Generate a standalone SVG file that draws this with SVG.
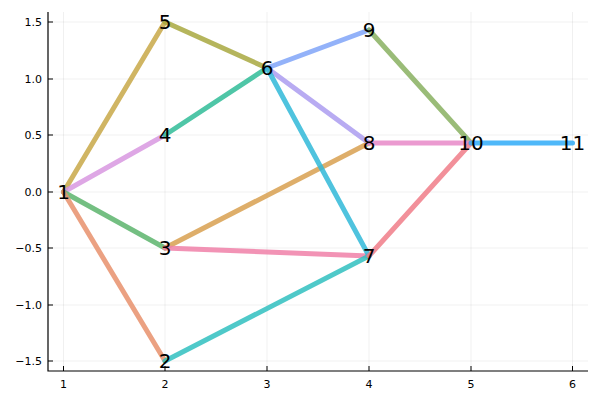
<svg xmlns="http://www.w3.org/2000/svg" width="600" height="400" viewBox="0 0 600 400">
<style>
.grid{stroke:#000;stroke-opacity:0.1;stroke-width:0.6}
.ax{stroke:#000;stroke-width:1.2;fill:none}
.tick{stroke:#000;stroke-width:1}
.tl{font-family:"DejaVu Sans",sans-serif;font-size:11px;fill:#000}
.e{stroke-width:5;stroke-linecap:round;fill:none;stroke-opacity:0.85}
.lbl{font-family:"DejaVu Sans",sans-serif;font-size:20px;fill:#000;text-anchor:middle;dominant-baseline:central}
</style>
<rect width="600" height="400" fill="#fff"/>
<g id="axes">
<g class="grid">
<line x1="63.5" y1="12" x2="63.5" y2="371"/><line x1="165" y1="12" x2="165" y2="371"/><line x1="267" y1="12" x2="267" y2="371"/><line x1="369" y1="12" x2="369" y2="371"/><line x1="471" y1="12" x2="471" y2="371"/><line x1="572.5" y1="12" x2="572.5" y2="371"/>
<line x1="48" y1="22" x2="588" y2="22"/><line x1="48" y1="79" x2="588" y2="79"/><line x1="48" y1="135" x2="588" y2="135"/><line x1="48" y1="192" x2="588" y2="192"/><line x1="48" y1="248" x2="588" y2="248"/><line x1="48" y1="305" x2="588" y2="305"/><line x1="48" y1="361" x2="588" y2="361"/>
</g>
<path class="ax" d="M48 12V371H588"/>
<g class="tick">
<line x1="63.5" y1="371" x2="63.5" y2="366"/><line x1="165" y1="371" x2="165" y2="366"/><line x1="267" y1="371" x2="267" y2="366"/><line x1="369" y1="371" x2="369" y2="366"/><line x1="471" y1="371" x2="471" y2="366"/><line x1="572.5" y1="371" x2="572.5" y2="366"/>
<line x1="48" y1="22" x2="53" y2="22"/><line x1="48" y1="79" x2="53" y2="79"/><line x1="48" y1="135" x2="53" y2="135"/><line x1="48" y1="192" x2="53" y2="192"/><line x1="48" y1="248" x2="53" y2="248"/><line x1="48" y1="305" x2="53" y2="305"/><line x1="48" y1="361" x2="53" y2="361"/>
</g>
<g class="tl" text-anchor="middle">
<text x="63.5" y="388">1</text><text x="165" y="388">2</text><text x="267" y="388">3</text><text x="369" y="388">4</text><text x="471" y="388">5</text><text x="572.5" y="388">6</text>
</g>
<g class="tl" text-anchor="end">
<text x="42" y="26">1.5</text><text x="42" y="83">1.0</text><text x="42" y="139">0.5</text><text x="42" y="196">0.0</text><text x="42" y="252">−0.5</text><text x="42" y="309">−1.0</text><text x="42" y="365">−1.5</text>
</g>
</g>
<g id="connectors">
<line class="e" x1="63.5" y1="192" x2="165" y2="22" stroke="#c8a848"/>
<line class="e" x1="63.5" y1="192" x2="165" y2="135" stroke="#d898e0"/>
<line class="e" x1="63.5" y1="192" x2="165" y2="248" stroke="#5cb46c"/>
<line class="e" x1="63.5" y1="192" x2="165" y2="361" stroke="#e8906c"/>
<line class="e" x1="165" y1="22" x2="267" y2="68" stroke="#a8a840"/>
<line class="e" x1="165" y1="135" x2="267" y2="68" stroke="#30bc98"/>
<line class="e" x1="165" y1="248" x2="369" y2="143" stroke="#d8a050"/>
<line class="e" x1="165" y1="248" x2="369" y2="256" stroke="#f080a8"/>
<line class="e" x1="165" y1="361" x2="369" y2="256" stroke="#30c0c0"/>
<line class="e" x1="267" y1="68" x2="369" y2="30" stroke="#80a4f8"/>
<line class="e" x1="267" y1="68" x2="369" y2="143" stroke="#ac9cf0"/>
<line class="e" x1="267" y1="68" x2="369" y2="256" stroke="#30b8d8"/>
<line class="e" x1="369" y1="30" x2="471" y2="143" stroke="#88b060"/>
<line class="e" x1="369" y1="143" x2="471" y2="143" stroke="#e888c8"/>
<line class="e" x1="369" y1="256" x2="471" y2="143" stroke="#f07c88"/>
<line class="e" x1="471" y1="143" x2="572.5" y2="143" stroke="#30acf8"/>
</g>
<g id="n1"><text class="lbl" x="63.5" y="192">1</text></g>
<g id="n2"><text class="lbl" x="165" y="361">2</text></g>
<g id="n3"><text class="lbl" x="165" y="248">3</text></g>
<g id="n4"><text class="lbl" x="165" y="135">4</text></g>
<g id="n5"><text class="lbl" x="165" y="22">5</text></g>
<g id="n6"><text class="lbl" x="267" y="68">6</text></g>
<g id="n7"><text class="lbl" x="369" y="256">7</text></g>
<g id="n8"><text class="lbl" x="369" y="143">8</text></g>
<g id="n9"><text class="lbl" x="369" y="30">9</text></g>
<g id="n10"><text class="lbl" x="471" y="143">10</text></g>
<g id="n11"><text class="lbl" x="572.5" y="143">11</text></g>
</svg>
